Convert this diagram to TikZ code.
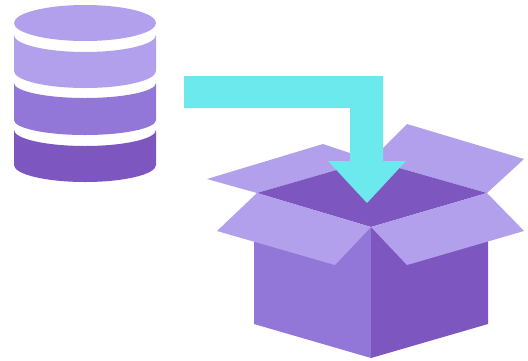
\documentclass[tikz,border=0pt]{standalone}
\definecolor{lightp}{HTML}{B2A0EC}
\definecolor{midp}{HTML}{9277D8}
\definecolor{darkp}{HTML}{7D57BF}
\definecolor{cyanA}{HTML}{6CE9EC}
\newcommand{\lowarc}[2]{.. controls (156,#1+.55*#2) and (85+39,#1+#2) .. (85,#1+#2) .. controls (85-39,#1+#2) and (14,#1+.55*#2) .. (14,#1)}
\newcommand{\uparc}[2]{.. controls (14,#1+.55*#2) and (85-39,#1+#2) .. (85,#1+#2) .. controls (85+39,#1+#2) and (156,#1+.55*#2) .. (156,#1)}
\begin{document}
\begin{tikzpicture}[x=1pt,y=-1pt,
  lightf/.style={fill=lightp},
  midf/.style={fill=midp},
  darkf/.style={fill=darkp},
  cyanf/.style={fill=cyanA}]
\useasboundingbox (0,0) rectangle (528,360);
% database
\fill[lightf] (14,23) .. controls (14,13) and (46,5) .. (85,5) .. controls (124,5) and (156,13) .. (156,23) .. controls (156,33) and (124,41) .. (85,41) .. controls (46,41) and (14,33) .. (14,23) -- cycle;
\fill[lightf] (14,35) \uparc{35}{17} -- (156,71) \lowarc{71}{17} -- cycle;
\fill[midf] (14,83) \uparc{83}{15} -- (156,120) \lowarc{120}{15} -- cycle;
\fill[darkf] (14,130) \uparc{130}{16} -- (156,165) \lowarc{165}{17} -- cycle;
% box
\fill[midf] (254,225) -- (371,227) -- (371,358) -- (254,324) -- cycle;
\fill[darkf] (488,225) -- (371,227) -- (371,358) -- (488,324) -- cycle;
\fill[lightf] (257,193) -- (207,179) -- (323,144) -- (371,160) -- cycle;
\fill[lightf] (487,193) -- (524,159) -- (407,124) -- (371,160) -- cycle;
\fill[darkf] (371,160) -- (487,193) -- (371,227) -- (257,193) -- cycle;
\fill[lightf] (371,227) -- (257,193) -- (217,231) -- (335,265) -- cycle;
\fill[lightf] (371,227) -- (487,193) -- (524,231) -- (407,265) -- cycle;
% arrow
\fill[cyanf] (184,76) -- (383,76) -- (383,161) -- (406,161) -- (367,203) -- (328,161) -- (350,161) -- (350,108) -- (184,108) -- cycle;
\end{tikzpicture}
\end{document}
